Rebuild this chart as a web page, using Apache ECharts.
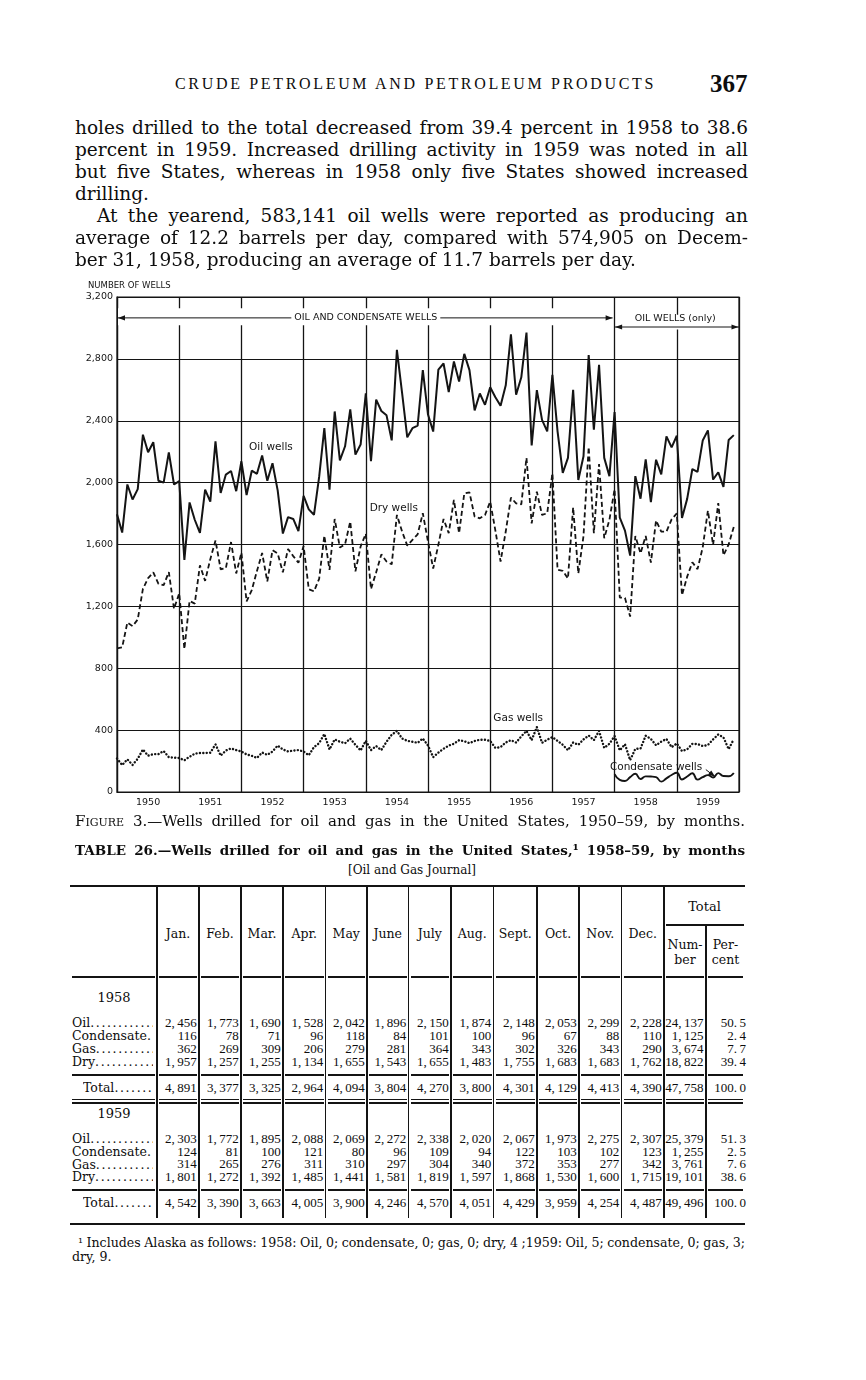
<!DOCTYPE html>
<html><head><meta charset="utf-8">
<script src="https://cdn.jsdelivr.net/npm/echarts@6/dist/echarts.min.js"></script>
<style>
html,body{margin:0;padding:0;background:#fff;}
#page{position:relative;width:866px;height:1380px;background:#fff;color:#0d0d0d;overflow:hidden;}
.abs{position:absolute;white-space:nowrap;}
.ln{position:absolute;background:#141414;}
#chart{position:absolute;left:0;top:270px;width:866px;height:545px;}
</style></head><body><div id="page"><div id="chart"></div></div>
<script>
// ---------------- DATA ----------------
const yearLabels = ['1950','1951','1952','1953','1954','1955','1956','1957','1958','1959'];
const yTicks = [0,400,800,1200,1600,2000,2400,2800,3200];
// monthly wells, Jan 1950 .. Dec 1957
const oilWells1950to1957 = [
 1795,1677,1988,1891,1958,2310,2196,2261,2012,2000,2196,1988,
 2010,1501,1872,1760,1675,1955,1877,2267,1933,2052,2075,1945,
 2138,1920,2077,2057,2175,2012,2125,1950,1671,1777,1765,1686,
 1915,1827,1792,2037,2353,1954,2460,2144,2235,2473,2181,2246,
 2577,2138,2537,2463,2435,2273,2858,2580,2293,2352,2368,2727,
 2440,2330,2730,2770,2585,2783,2653,2832,2727,2467,2576,2503,
 2617,2552,2497,2629,2958,2568,2681,2970,2240,2598,2406,2331,
 2697,2330,2063,2160,2600,2017,2170,2825,2342,2762,2160,2042];
const dryWells1950to1957 = [
 929,935,1096,1072,1115,1313,1383,1420,1346,1337,1422,1184,
 1285,924,1235,1218,1465,1365,1505,1626,1440,1447,1616,1413,
 1547,1232,1305,1429,1545,1361,1563,1542,1420,1571,1525,1482,
 1590,1311,1297,1378,1657,1436,1765,1580,1602,1748,1426,1587,
 1670,1312,1420,1536,1490,1472,1791,1684,1593,1630,1666,1802,
 1619,1445,1598,1765,1673,1888,1673,1930,1937,1780,1769,1791,
 1877,1690,1490,1684,1903,1866,1860,2160,1737,1941,1791,1802,
 2060,1437,1430,1380,1840,1413,1655,2230,1673,2120,1641,1760];
const gasWells1950to1957 = [
 217,174,211,175,215,275,235,245,245,265,225,222,
 220,205,228,248,252,252,254,308,235,268,282,271,
 262,243,234,220,255,240,262,300,275,262,268,271,
 262,238,290,316,375,275,340,325,315,345,305,268,
 331,271,297,271,325,370,395,346,331,325,318,346,
 300,225,255,280,300,312,335,328,316,330,338,338,
 330,285,290,320,335,320,360,395,335,420,318,338,
 355,330,305,270,320,305,340,365,335,395,285,312];
// Table 26
const tableMonths = ['Jan.','Feb.','Mar.','Apr.','May','June','July','Aug.','Sept.','Oct.','Nov.','Dec.'];
const rowLabels = ['Oil','Condensate','Gas','Dry'];
const oil1958 = [2456,1773,1690,1528,2042,1896,2150,1874,2148,2053,2299,2228];
const condensate1958 = [116,78,71,96,118,84,101,100,96,67,88,110];
const gas1958 = [362,269,309,206,279,281,364,343,302,326,343,290];
const dry1958 = [1957,1257,1255,1134,1655,1543,1655,1483,1755,1683,1683,1762];
const total1958 = [4891,3377,3325,2964,4094,3804,4270,3800,4301,4129,4413,4390];
const totalNumber1958 = [24137,1125,3674,18822,47758];
const totalPercent1958 = [50.5,2.4,7.7,39.4,100.0];
const oil1959 = [2303,1772,1895,2088,2069,2272,2338,2020,2067,1973,2275,2307];
const condensate1959 = [124,81,100,121,80,96,109,94,122,103,102,123];
const gas1959 = [314,265,276,311,310,297,304,340,372,353,277,342];
const dry1959 = [1801,1272,1392,1485,1441,1581,1819,1597,1868,1530,1600,1715];
const total1959 = [4542,3390,3663,4005,3900,4246,4570,4051,4429,3959,4254,4487];
const totalNumber1959 = [25379,1255,3761,19101,49496];
const totalPercent1959 = [51.3,2.5,7.6,38.6,100.0];

// ---------------- TEXT HELPERS ----------------
const page = document.getElementById('page');
const SERIF = "'DejaVu Serif', serif";
const TIMES = "'Liberation Serif', 'Times New Roman', serif";
const SANS = "'DejaVu Sans', sans-serif";
function addText(html, x, cy, o) {
  const d = document.createElement('div');
  d.className = 'abs';
  d.innerHTML = html;
  d.style.fontFamily = o.family || SERIF;
  d.style.fontSize = o.size + 'px';
  d.style.fontWeight = o.weight || 'normal';
  const lh = o.size * 1.25;
  d.style.lineHeight = lh + 'px';
  d.style.top = (cy - lh / 2) + 'px';
  if (o.ls) d.style.letterSpacing = o.ls + 'px';
  page.appendChild(d);
  const nat = d.getBoundingClientRect().width;
  if (o.fit === 'word') {
    const n = (d.textContent.match(/ /g) || []).length;
    if (n) d.style.wordSpacing = ((o.w - nat) / n) + 'px';
    d.style.left = x + 'px';
  } else if (o.fit === 'letter') {
    const n = d.textContent.length;
    d.style.letterSpacing = ((o.ls || 0) + (o.w - nat) / n) + 'px';
    d.style.left = x + 'px';
  } else if (o.align === 'right') d.style.left = (x - nat) + 'px';
  else if (o.align === 'center') d.style.left = (x - nat / 2) + 'px';
  else d.style.left = x + 'px';
  return d;
}
function hline(x1, x2, y, t) {
  const d = document.createElement('div'); d.className = 'ln';
  d.style.left = x1 + 'px'; d.style.width = (x2 - x1) + 'px';
  d.style.top = (y - t / 2) + 'px'; d.style.height = t + 'px'; page.appendChild(d);
}
function vline(x, y1, y2, t) {
  const d = document.createElement('div'); d.className = 'ln';
  d.style.left = (x - t / 2) + 'px'; d.style.width = t + 'px';
  d.style.top = y1 + 'px'; d.style.height = (y2 - y1) + 'px'; page.appendChild(d);
}

// ---------------- PAGE TEXT ----------------
addText('CRUDE PETROLEUM AND PETROLEUM PRODUCTS', 175, 84, {family: TIMES, size: 16, fit: 'letter', w: 481});
addText('367', 710, 84, {family: TIMES, size: 25, weight: 'bold'});
const paraLines = [
  ['holes drilled to the total decreased from 39.4 percent in 1958 to 38.6', 75, true],
  ['percent in 1959. Increased drilling activity in 1959 was noted in all', 75, true],
  ['but five States, whereas in 1958 only five States showed increased', 75, true],
  ['drilling.', 75, false],
  ['At the yearend, 583,141 oil wells were reported as producing an', 97, true],
  ['average of 12.2 barrels per day, compared with 574,905 on Decem-', 75, true],
  ['ber 31, 1958, producing an average of 11.7 barrels per day.', 75, false]
];
paraLines.forEach((l, i) => {
  addText(l[0], l[1], 128 + i * 22, l[2] ? {size: 18.5, fit: 'word', w: 748 - l[1]} : {size: 18.5});
});
addText('<span style="font-variant:small-caps">Figure</span> 3.—Wells drilled for oil and gas in the United States, 1950–59, by months.', 75, 821, {size: 15, fit: 'word', w: 670});
addText('TABLE 26.—Wells drilled for oil and gas in the United States,¹ 1958–59, by months', 75, 850, {size: 13.5, weight: 'bold', fit: 'word', w: 670});
addText('[Oil and Gas Journal]', 412, 870, {size: 12, align: 'center'});

// ---------------- TABLE ----------------
const colX = [70,157,199,241,283,325.5,367,408.5,451,493.5,537,579,621.5,664,706,745];
const fmt = n => n >= 1000 ? Math.floor(n / 1000) + ',\u2009' + String(n % 1000).padStart(3, '0') : String(n);
const fmtP = p => p.toFixed(1).replace('.', '.\u2009');
const NUM = {family: TIMES, size: 13, align: 'right'};
hline(70, 745, 886, 2.2);
hline(666, 744, 925, 1.1);
for (let k = 1; k <= 14; k++) vline(colX[k], k === 14 ? 925 : 886, 1218, 1.3);
function segRule(y) {
  hline(72, colX[1] - 2, y, 1.1);
  for (let k = 1; k < 15; k++) hline(colX[k] + 2, colX[k + 1] - 2, y, 1.1);
}
segRule(977);
addText('Total', 704.5, 907, {size: 13, align: 'center'});
tableMonths.forEach((m, k) => addText(m, (colX[k + 1] + colX[k + 2]) / 2, 934, {size: 12.5, align: 'center'}));
addText('Num-', 685, 945, {size: 12.5, align: 'center'});
addText('ber', 685, 960, {size: 12.5, align: 'center'});
addText('Per-', 725.5, 945, {size: 12.5, align: 'center'});
addText('cent', 725.5, 960, {size: 12.5, align: 'center'});
function stub(label, x, y, last) {
  const dots = last ? '' : '<span style="letter-spacing:1.6px">' + '.'.repeat(30) + '</span>';
  const d = addText(label + dots, x, y, {size: 12.5});
  d.style.width = (153 - x) + 'px'; d.style.overflow = 'hidden';
}
function block(year, yHead, ys, yTot, rows, totals, numbers, percents) {
  addText(year, 114, yHead, {size: 13, align: 'center'});
  rows.forEach((r, j) => {
    stub(j === 1 ? 'Condensate.' : rowLabels[j], 72, ys[j], j === 1);
    r.forEach((v, k) => addText(fmt(v), colX[k + 2] - 2.2, ys[j], NUM));
    addText(fmt(numbers[j]), colX[14] - 2.5, ys[j], NUM);
    addText(fmtP(percents[j]), colX[15] + 1, ys[j], NUM);
  });
  stub('Total', 83, yTot, false);
  totals.forEach((v, k) => addText(fmt(v), colX[k + 2] - 2.2, yTot, NUM));
  addText(fmt(numbers[4]), colX[14] - 2.5, yTot, NUM);
  addText(fmtP(percents[4]), colX[15] + 1, yTot, NUM);
}
block('1958', 998, [1023, 1036, 1049, 1062], 1088,
  [oil1958, condensate1958, gas1958, dry1958], total1958, totalNumber1958, totalPercent1958);
segRule(1075); segRule(1099.5); segRule(1103);
block('1959', 1114, [1139, 1152, 1164.5, 1177], 1203,
  [oil1959, condensate1959, gas1959, dry1959], total1959, totalNumber1959, totalPercent1959);
segRule(1190);
hline(70, 745, 1224, 2.6);
addText('¹ Includes Alaska as follows: 1958: Oil, 0; condensate, 0; gas, 0; dry, 4 ;1959: Oil, 5; condensate, 0; gas, 3;', 78, 1243, {size: 12.6, fit: 'word', w: 667});
addText('dry, 9.', 72, 1257, {size: 12.6});

// ---------------- CHART ----------------
const chart = echarts.init(document.getElementById('chart'));
const indexed = (arr, start) => arr.map((v, i) => [start + i, v]);
const oilAll = oilWells1950to1957.concat(oil1958, oil1959);
const dryAll = dryWells1950to1957.concat(dry1958, dry1959);
const gasAll = gasWells1950to1957.concat(gas1958, gas1959);
const condAll = condensate1958.concat(condensate1959);
const INK = '#141414';
const lblFont = {fontFamily: SANS, fontSize: 9.5, color: INK};
chart.setOption({
  animation: false,
  grid: {left: 117, top: 27, width: 622, height: 495, show: true, borderColor: INK, borderWidth: 1.2},
  xAxis: [
    {type: 'value', min: 0, max: 120, interval: 12, axisLine: {show: true, lineStyle: {color: INK, width: 1.2}},
     axisTick: {show: false}, axisLabel: {show: false}, splitLine: {show: true, lineStyle: {color: INK, width: 1.3}}},
    {type: 'value', min: 0, max: 120, interval: 6, position: 'bottom', offset: 0,
     axisLine: {show: false}, axisTick: {show: false}, splitLine: {show: false},
     axisLabel: Object.assign({margin: 6, formatter: v => (v % 12 === 6 ? yearLabels[(v - 6) / 12] : '')}, lblFont)}
  ],
  yAxis: {type: 'value', min: yTicks[0], max: yTicks[yTicks.length - 1], interval: 400,
    axisLine: {show: true, lineStyle: {color: INK, width: 1.2}}, axisTick: {show: false},
    splitLine: {show: true, lineStyle: {color: INK, width: 1.2}},
    axisLabel: Object.assign({margin: 4, formatter: v => v.toLocaleString('en-US')}, lblFont)},
  series: [
    {name: 'Oil wells', type: 'line', data: indexed(oilAll, 0), symbol: 'none', silent: true, z: 5,
     lineStyle: {color: INK, width: 2}},
    {name: 'Dry wells', type: 'line', data: indexed(dryAll, 0), symbol: 'none', silent: true, z: 4,
     lineStyle: {color: INK, width: 1.8, type: [5, 3]}},
    {name: 'Gas wells', type: 'line', data: indexed(gasAll, 0), symbol: 'none', silent: true, z: 4,
     lineStyle: {color: INK, width: 2.4, type: [0.1, 3.3], cap: 'round'}},
    {name: 'Condensate wells', type: 'line', data: indexed(condAll, 96), symbol: 'none', silent: true, z: 4,
     smooth: 0.5, lineStyle: {color: INK, width: 1.9}}
  ]
});
const px = (m, v) => chart.convertToPixel({xAxisIndex: 0, yAxisIndex: 0}, [m, v]);
function arrowHead(tip, dir) {
  const L = 7, W = 2.6, n = [-dir[1], dir[0]];
  return {type: 'polygon', z: 20, silent: true, shape: {points: [
    tip, [tip[0] - L * dir[0] + W * n[0], tip[1] - L * dir[1] + W * n[1]],
    [tip[0] - L * dir[0] - W * n[0], tip[1] - L * dir[1] - W * n[1]]]}, style: {fill: INK}};
}
function label(text, m, v, size, bg) {
  const p = px(m, v);
  return {type: 'text', x: p[0], y: p[1], z: 21, silent: true,
    style: {text: text, fill: INK, font: size + 'px ' + SANS, align: 'center', verticalAlign: 'middle',
      backgroundColor: bg ? '#fff' : null, padding: bg ? [1, 3] : 0}};
}
const xL = px(0, 0)[0], x58 = px(96, 0)[0], xR = px(120, 0)[0];
const yTop = px(0, 3200)[1];
const yA = px(0, 3065)[1], yB = px(0, 3006)[1];
const g = [];
g.push({type: 'rect', z: 15, silent: true, shape: {x: xL + 1, y: px(0, 3128)[1], width: x58 - xL - 3, height: px(0, 3018)[1] - px(0, 3128)[1]}, style: {fill: '#fff'}});
g.push({type: 'rect', z: 15, silent: true, shape: {x: x58 + 1.5, y: px(0, 3085)[1], width: xR - x58 - 3, height: px(0, 2990)[1] - px(0, 3085)[1]}, style: {fill: '#fff'}});
g.push({type: 'line', z: 18, silent: true, shape: {x1: xL + 1, y1: yA, x2: x58 - 2, y2: yA}, style: {stroke: INK, lineWidth: 1}});
g.push(arrowHead([xL + 1, yA], [-1, 0]));
g.push(arrowHead([x58 - 2, yA], [1, 0]));
g.push(label('OIL AND CONDENSATE WELLS', 48, 3065, 9.5, true));
g.push({type: 'line', z: 18, silent: true, shape: {x1: x58, y1: yB, x2: xR, y2: yB}, style: {stroke: INK, lineWidth: 1}});
g.push(arrowHead([x58 + 0.5, yB], [-1, 0]));
g.push(arrowHead([xR - 0.5, yB], [1, 0]));
g.push(label('OIL WELLS (only)', 107.7, 3058, 9.5, false));
g.push({type: 'text', x: xL - 29, y: yTop - 11, z: 21, silent: true,
  style: {text: 'NUMBER OF WELLS', fill: INK, font: '8.5px ' + SANS, align: 'left', verticalAlign: 'middle'}});
g.push(label('Oil wells', 29.7, 2226, 10.5, false));
g.push(label('Dry wells', 53.4, 1832, 10.5, false));
g.push(label('Gas wells', 77.4, 477, 10.5, false));
g.push(label('Condensate wells', 104, 161, 10.5, false));
const a1 = px(113.6, 145), a2 = px(115.4, 98);
g.push({type: 'line', z: 18, silent: true, shape: {x1: a1[0], y1: a1[1], x2: a2[0], y2: a2[1]}, style: {stroke: INK, lineWidth: 1}});
const dl = Math.hypot(a2[0] - a1[0], a2[1] - a1[1]);
g.push(arrowHead(a2, [(a2[0] - a1[0]) / dl, (a2[1] - a1[1]) / dl]));
chart.setOption({graphic: g});
</script></body></html>
